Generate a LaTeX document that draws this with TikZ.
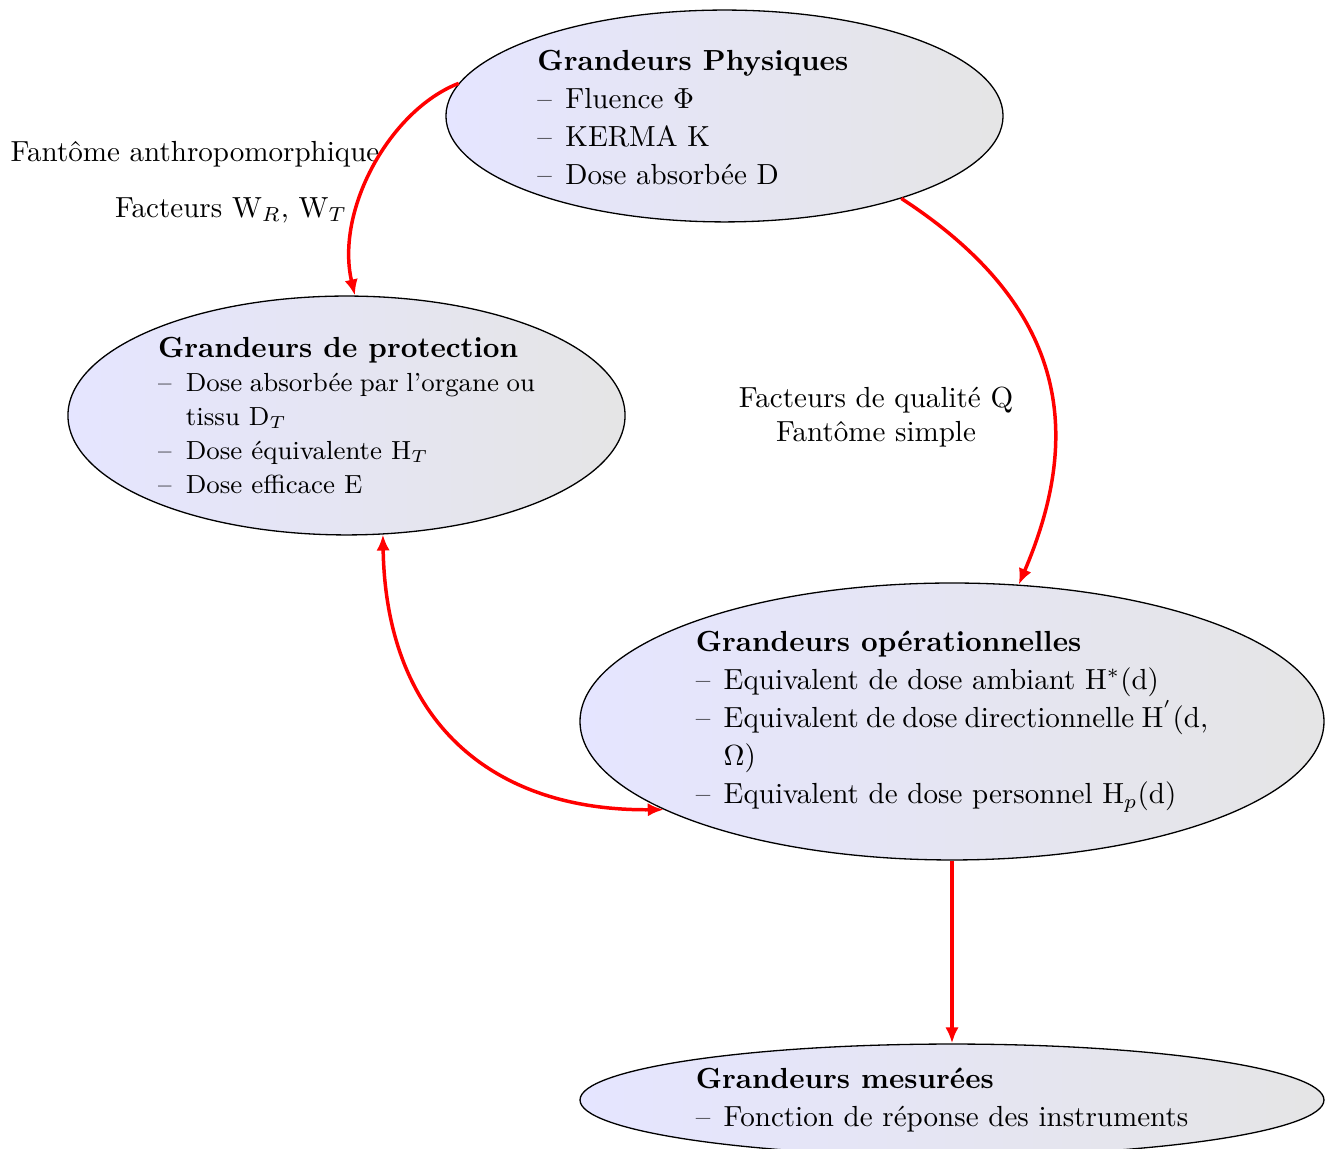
\documentclass[tikz,border=0pt]{standalone}
\usetikzlibrary{shapes.geometric,arrows.meta}
\newcommand\itm{\noindent\hangindent=9.6pt\hangafter=1\makebox[9.6pt][l]{\textendash}}
\newcommand\ttl[1]{\noindent{\bfseries #1}\par}
\begin{document}
\begin{tikzpicture}[x=0.3441pt,y=-0.3441pt,
  blob/.style={ellipse,draw=black,line width=0.45pt,left color=blue!10,right color=black!10,inner sep=0pt},
  conn/.style={red,line width=1.2pt,-{Latex[length=5.5pt,width=4.6pt]}},
  lbl/.style={font=\fontsize{10}{11.7}\selectfont,align=center,inner sep=0pt},
  txt/.style={inner sep=0pt,align=justify,font=\fontsize{10}{13.1}\selectfont}]
\clip (0,0) rectangle (1327,1149);

% ellipses
\node[blob,minimum width=191.7pt,minimum height=72.9pt] (phys) at (724.5,116) {};
\node[blob,minimum width=191.7pt,minimum height=82.2pt] (prot) at (346.5,415.5) {};
\node[blob,minimum width=256pt,minimum height=95.3pt] (op) at (952,721.5) {};
\node[blob,minimum width=256pt,minimum height=38.5pt] (mes) at (952,1100) {};

% texts
\node[txt,text width=128.7pt] (physT) at ([yshift=-0.6pt]phys.center) {%
\ttl{Grandeurs Physiques}
\itm Fluence $\Phi$\par
\itm KERMA K\par
\itm Dose absorbée D\par};

\node[txt,text width=129.7pt,font=\fontsize{9}{11.7}\selectfont] (protT) at (prot.center) {%
\noindent{\fontsize{10}{11.7}\selectfont\bfseries Grandeurs de protection}\par
\itm Dose absorbée par l’organe ou tissu D$_T$\par
\itm Dose équivalente H$_T$\par
\itm Dose efficace E\par};

\node[txt,text width=176.3pt] (opT) at (op.center) {%
\ttl{Grandeurs opérationnelles}
\itm Equivalent de dose ambiant H$^*$(d)\par
\itm Equivalent de dose directionnelle H$^{'}$(d, $\Omega$)\par
\itm Equivalent de dose personnel H$_p$(d)\par};

\node[txt,text width=176.3pt] (mesT) at (mes.center) {%
\ttl{Grandeurs mesurées}
\itm Fonction de réponse des instruments\par};

% labels
\node[lbl] (l1) at (195,154) {Fantôme anthropomorphique};
\node[lbl] (l2) at (231,210) {Facteurs W$_R$, W$_T$};
\node[lbl] (l3) at (876,417) {Facteurs de qualité Q\\Fantôme simple};

% connectors
\draw[conn] (phys.173.4) .. controls (390,110) and (335,210) .. (prot.86);
\draw[conn] (phys.335.6) .. controls (1065,305) and (1085,430) .. (op.64.5);
\draw[conn,{Latex[length=5.5pt,width=4.6pt]}-{Latex[length=5.5pt,width=4.6pt]}] (prot.287.6) .. controls (386,720) and (490,811) .. (op.197.6);
\draw[conn] (op.south) -- (mes.north);
\end{tikzpicture}
\end{document}
